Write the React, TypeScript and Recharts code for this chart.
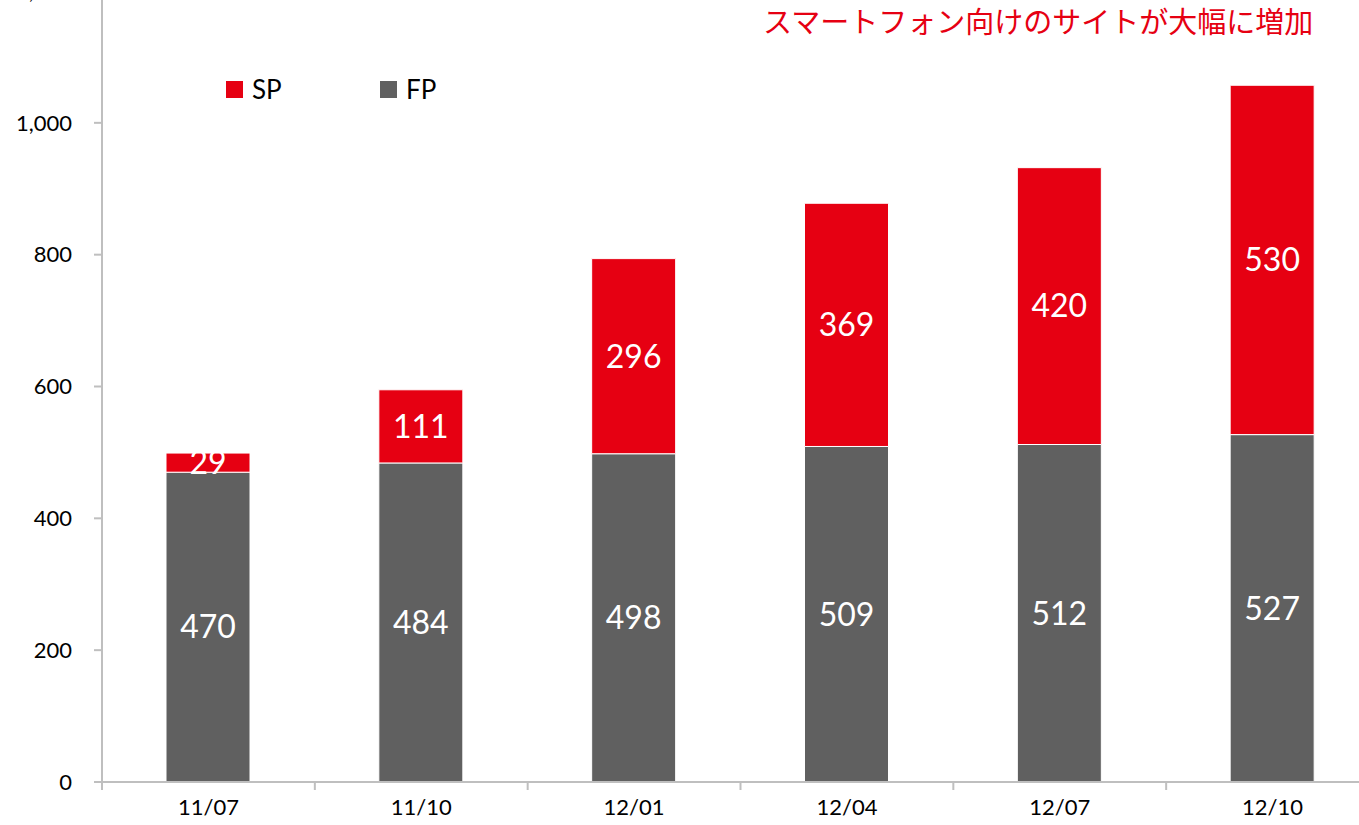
import React from 'react';
import { Bar, BarChart, LabelList, XAxis, YAxis } from 'recharts';

const periods = ['11/07', '11/10', '12/01', '12/04', '12/07', '12/10'];
const fpValues = [470, 484, 498, 509, 512, 527];
const spValues = [29, 111, 296, 369, 420, 530];
const yTicks = [0, 200, 400, 600, 800, 1000, 1200];

const RED = '#E60012';
const GRAY = '#606060';
const AXIS = '#BFBFBF';

const CHART_W = 1390;
const CHART_H = 870;
const MARGIN = { top: 21, right: 11, bottom: 8, left: 0 };
const Y_AXIS_W = 102;
const BAND = (CHART_W - MARGIN.left - MARGIN.right - Y_AXIS_W) / periods.length;

const data = periods.map((p, i) => ({ period: p, FP: fpValues[i], SP: spValues[i] }));

const legendItems = [
  { name: 'SP', color: RED },
  { name: 'FP', color: GRAY },
];

// category ticks sit between the bars (band edges), labels sit under the bar
function PeriodTick(props: any) {
  const { x, y, payload } = props;
  const left = x - BAND / 2;
  return (
    <g>
      <line x1={left} x2={left} y1={y} y2={y + 8} stroke={AXIS} strokeWidth={2} />
      <text x={x} y={y + 33} textAnchor="middle" fontSize={22} fill="#000" fontFamily="Lato, sans-serif">
        {payload.value}
      </text>
    </g>
  );
}

export default function App() {
  return (
    <div style={{ position: 'fixed', left: 0, top: 0, width: 1359, height: 825, overflow: 'hidden', background: '#fff' }}>
      <div style={{ position: 'absolute', left: 0, top: -30 }}>
        <BarChart width={CHART_W} height={CHART_H} data={data} margin={MARGIN} barSize={84}>
          <XAxis
            dataKey="period"
            stroke={AXIS}
            strokeWidth={2}
            tickLine={false}
            tickSize={0}
            tickMargin={0}
            height={50}
            tick={<PeriodTick />}
            interval={0}
          />
          <YAxis
            domain={[0, 1200]}
            ticks={yTicks}
            width={Y_AXIS_W}
            stroke={AXIS}
            strokeWidth={2}
            tickSize={8}
            tickMargin={22}
            tick={{ fill: '#000', fontSize: 22, fontFamily: 'Lato, sans-serif' }}
            tickFormatter={(v: number) => v.toLocaleString('en-US')}
          />
          <Bar dataKey="FP" stackId="a" fill={GRAY} stroke="#fff" strokeWidth={1} isAnimationActive={false}>
            <LabelList dataKey="FP" position="center" fill="#fff" fontSize={32} fontFamily="Lato, sans-serif" />
          </Bar>
          <Bar dataKey="SP" stackId="a" fill={RED} stroke="#fff" strokeWidth={1} isAnimationActive={false}>
            <LabelList dataKey="SP" position="center" fill="#fff" fontSize={32} fontFamily="Lato, sans-serif" />
          </Bar>
        </BarChart>
      </div>
      <div
        style={{
          position: 'absolute',
          left: 226,
          top: 72,
          display: 'flex',
          fontFamily: 'Lato, sans-serif',
          fontSize: 26,
          lineHeight: '34px',
        }}
      >
        {legendItems.map((it) => (
          <div key={it.name} style={{ display: 'flex', alignItems: 'center', width: 154 }}>
            <span style={{ width: 17, height: 17, background: it.color, display: 'inline-block', marginRight: 9 }} />
            <span>{it.name}</span>
          </div>
        ))}
      </div>
      <div
        style={{
          position: 'absolute',
          left: 763,
          top: 2,
          color: RED,
          fontSize: 29,
          fontFamily: '"Noto Sans CJK JP", sans-serif',
          whiteSpace: 'nowrap',
          lineHeight: '36px',
        }}
      >
        スマートフォン向けのサイトが大幅に増加
      </div>
    </div>
  );
}
